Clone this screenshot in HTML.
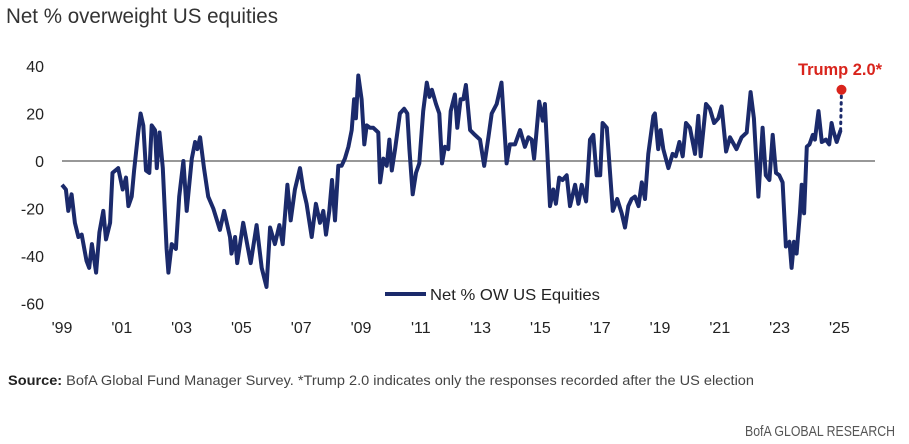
<!DOCTYPE html>
<html><head><meta charset="utf-8"><style>
html,body{margin:0;padding:0;background:#fff;}
svg{display:block;font-family:"Liberation Sans",Arial,sans-serif;}
</style></head><body>
<svg id="chart" width="909" height="444" viewBox="0 0 909 444" xmlns="http://www.w3.org/2000/svg">
<text x="6" y="23" font-size="21" fill="#333" textLength="272" lengthAdjust="spacingAndGlyphs">Net % overweight US equities</text>
<g id="yaxis"></g>
<g id="xaxis"></g>
<line x1="62" y1="161" x2="875" y2="161" stroke="#777" stroke-width="1.5"/>
<g id="series"></g>
<g>
<line x1="385" y1="294" x2="426" y2="294" stroke="#1b2a6b" stroke-width="4"/>
<text x="430" y="300" font-size="16" fill="#222" textLength="170" lengthAdjust="spacingAndGlyphs">Net % OW US Equities</text>
</g>
<text x="798" y="75" font-size="17" font-weight="bold" fill="#d9241c" textLength="84" lengthAdjust="spacingAndGlyphs">Trump 2.0*</text>
<text x="8" y="385" font-size="14" fill="#444" textLength="746" lengthAdjust="spacingAndGlyphs"><tspan font-weight="bold" fill="#222">Source:</tspan> BofA Global Fund Manager Survey. *Trump 2.0 indicates only the responses recorded after the US election</text>
<text x="895" y="436" font-size="15" fill="#555" text-anchor="end" textLength="150" lengthAdjust="spacingAndGlyphs">BofA GLOBAL RESEARCH</text>
</svg>
<script>
const yTicks=[40,20,0,-20,-40,-60];
const xTickLabels=["'99","'01","'03","'05","'07","'09","'11","'13","'15","'17","'19","'21","'23","'25"];
const xTickYears=[1999,2001,2003,2005,2007,2009,2011,2013,2015,2017,2019,2021,2023,2025];
const dates=[1999.0,1999.13,1999.21,1999.32,1999.43,1999.55,1999.66,1999.82,1999.91,2000.0,2000.14,2000.25,2000.38,2000.47,2000.61,2000.69,2000.88,2001.03,2001.14,2001.22,2001.33,2001.41,2001.55,2001.63,2001.72,2001.81,2001.92,2002.0,2002.11,2002.17,2002.26,2002.37,2002.5,2002.56,2002.67,2002.81,2002.92,2003.06,2003.17,2003.34,2003.45,2003.53,2003.62,2003.75,2003.89,2004.06,2004.28,2004.42,2004.62,2004.67,2004.79,2004.86,2005.06,2005.31,2005.51,2005.68,2005.84,2005.96,2006.12,2006.27,2006.38,2006.54,2006.65,2006.79,2006.96,2007.07,2007.18,2007.35,2007.49,2007.63,2007.74,2007.83,2007.94,2008.03,2008.13,2008.24,
2008.35,2008.46,2008.58,2008.69,2008.77,2008.83,2008.91,2009.02,2009.11,2009.19,2009.3,2009.41,2009.58,2009.64,2009.75,2009.86,2009.95,2010.03,2010.14,2010.3,2010.44,2010.55,2010.62,2010.73,2010.84,2010.95,2011.08,2011.2,2011.29,2011.37,2011.51,2011.62,2011.71,2011.81,2011.92,2012.0,2012.14,2012.22,2012.33,2012.42,2012.51,2012.65,2012.81,2012.98,2013.12,2013.26,2013.37,2013.54,2013.7,2013.87,2013.98,2014.15,2014.32,2014.48,2014.6,2014.71,2014.79,2014.96,2015.08,2015.15,2015.32,2015.43,2015.52,2015.63,2015.74,2015.88,2015.99,2016.16,2016.27,2016.38,2016.53,2016.66,2016.77,2016.88,2017.0,2017.08,2017.22,2017.42,2017.57,2017.72,2017.83,
2017.94,2018.05,2018.16,2018.28,2018.39,2018.5,2018.61,2018.78,2018.83,2018.94,2019.02,2019.11,2019.28,2019.42,2019.53,2019.65,2019.76,2019.87,2020.0,2020.17,2020.28,2020.36,2020.54,2020.67,2020.81,2020.95,2021.06,2021.21,2021.34,2021.56,2021.73,2021.9,2022.03,2022.14,2022.29,2022.43,2022.54,2022.66,2022.77,2022.88,2022.99,2023.1,2023.21,2023.33,2023.4,2023.48,2023.57,2023.68,2023.74,2023.82,2023.91,2024.0,2024.11,2024.18,2024.3,2024.41,2024.55,2024.66,2024.74,2024.79,2024.91,2025.04];
const values=[-10,-12,-21,-14,-26,-32,-31,-42,-45,-35,-47,-30,-21,-33,-26,-5,-3,-12,-7,-19,-15,-4,12,20,15,-4,-5,15,13,-3,12,-3,-37,-47,-35,-37,-15,0,-21,1,8,5,10,-3,-15,-20,-29,-21,-32,-39,-32,-43,-26,-43,-27,-45,-53,-28,-35,-27,-35,-10,-25,-12,-3,-12,-18,-32,-18,-26,-21,-31,-21,-8,-25,-2,
-2,1,6,13,26,18,36,26,7,15,14,14,12,-9,1,-2,9,-4,5,20,22,20,5,-14,-5,-1,21,33,27,30,24,20,-1,6,5,21,28,14,26,26,32,13,11,9,-2,10,20,24,33,-1,7,7,13,6,10,9,1,25,17,24,-19,-12,-18,-7,-8,-6,-19,-10,-18,-10,-17,9,11,-6,-6,16,14,-21,-16,-22,-28,
-19,-16,-15,-19,-9,-16,3,19,20,5,13,5,-3,3,2,8,2,16,14,3,19,2,24,22,16,18,23,4,10,5,10,12,29,18,-15,14,-6,-8,11,-5,-6,-9,-36,-34,-45,-34,-39,-22,-10,-22,6,7,11,9,21,8,9,7,16,13,8,13];
const trumpDate=[2025.07];
const trumpValue=[30];
const NS="http://www.w3.org/2000/svg";
function xs(y){return 62+(y-1999)*29.9;}
function ys(v){return 161-v*2.375;}
const ya=document.getElementById('yaxis'),xa=document.getElementById('xaxis'),sg=document.getElementById('series');
yTicks.forEach(t=>{const e=document.createElementNS(NS,'text');


e.setAttribute('x',44);e.setAttribute('y',ys(t)+6);e.setAttribute('text-anchor','end');e.setAttribute('font-size','16');e.setAttribute('fill','#222');e.textContent=t;ya.appendChild(e);});
xTickLabels.forEach((l,i)=>{const e=document.createElementNS(NS,'text');


e.setAttribute('x',xs(xTickYears[i]));e.setAttribute('y',333);e.setAttribute('text-anchor','middle');e.setAttribute('font-size','16');e.setAttribute('fill','#222');e.textContent=l;xa.appendChild(e);});
const p=document.createElementNS(NS,'polyline');


p.setAttribute('points',dates.map((d,i)=>xs(d).toFixed(1)+','+ys(values[i]).toFixed(1)).join(' '));
p.setAttribute('fill','none');p.setAttribute('stroke','#1b2a6b');p.setAttribute('stroke-width','4');p.setAttribute('stroke-linejoin','round');
sg.appendChild(p);
const li=dates.length-1;
const dl=document.createElementNS(NS,'line');


dl.setAttribute('x1',xs(dates[li]));dl.setAttribute('y1',ys(values[li]));dl.setAttribute('x2',xs(trumpDate[0]));dl.setAttribute('y2',ys(trumpValue[0]));
dl.setAttribute('stroke','#1b2a6b');dl.setAttribute('stroke-width','3');dl.setAttribute('stroke-dasharray','1.5 5');dl.setAttribute('stroke-linecap','round');
sg.appendChild(dl);
const c=document.createElementNS(NS,'circle');


c.setAttribute('cx',xs(trumpDate[0]));c.setAttribute('cy',ys(trumpValue[0]));c.setAttribute('r',5);c.setAttribute('fill','#d9241c');
sg.appendChild(c);
</script>
</body></html>
